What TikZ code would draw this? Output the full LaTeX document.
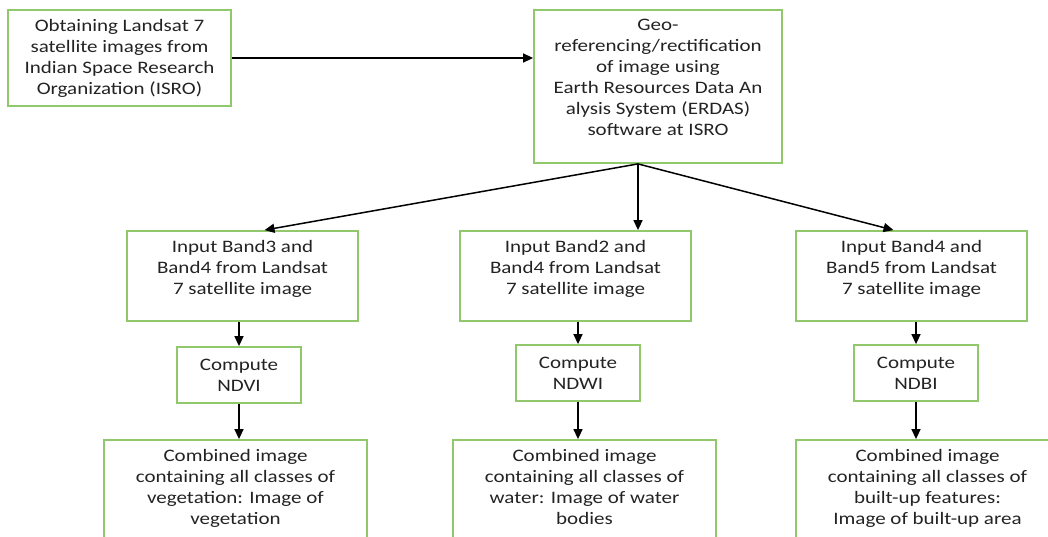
\documentclass[tikz,border=0pt]{standalone}
\usepackage{fontspec}
\setmainfont{Carlito}[FakeStretch=1.2]
\usetikzlibrary{arrows.meta}
\definecolor{boxgreen}{RGB}{146,200,108}
\definecolor{txtgray}{RGB}{35,35,35}

\begin{document}
\begin{tikzpicture}[x=1pt, y=-1pt,
    box/.style={draw=boxgreen, line width=1.8pt, align=center, text=txtgray,
      inner sep=0pt, font=\fontsize{17.5}{21}\selectfont},
    padbottom/.style={execute at end node={\rule[-#1]{0pt}{1pt}}},
    arr/.style={-{Triangle[length=10pt,width=9pt]}, line width=1.5pt}]
    \useasboundingbox (0,0) rectangle (1048,537);
    \clip (0,0) rectangle (1048,537);

    % Source and rectification
    \node (obtain) [box, minimum width=223, minimum height=96] at (119.5,58)
      {Obtaining Landsat 7\\satellite images from\\Indian Space Research\\Organization (ISRO)};
    \node (georef) [box, padbottom=18pt, minimum width=248, minimum height=153] at (658,86.5)
      {Geo-\\referencing/rectification\\of image using\\Earth Resources Data An\\alysis System (ERDAS)\\software at ISRO};

    % Input bands
    \node (band34) [box, padbottom=18pt, minimum width=231, minimum height=90] at (242.5,276)
      {Input Band3 and\\Band4 from Landsat\\7 satellite image};
    \node (band24) [box, padbottom=18pt, minimum width=231, minimum height=90] at (575.5,276)
      {Input Band2 and\\Band4 from Landsat\\7 satellite image};
    \node (band45) [box, padbottom=18pt, minimum width=231, minimum height=90] at (911.5,276)
      {Input Band4 and\\Band5 from Landsat\\7 satellite image};

    % Indices
    \node (ndvi) [box, minimum width=124, minimum height=56] at (239,375) {Compute\\NDVI};
    \node (ndwi) [box, minimum width=124, minimum height=56] at (578,373) {Compute\\NDWI};
    \node (ndbi) [box, minimum width=124, minimum height=56] at (916,373) {Compute\\NDBI};

    % Combined images
    \node (veg) [box, padbottom=25pt, minimum width=263, minimum height=118] at (235.5,499)
      {Combined image\\containing all classes of\\vegetation: Image of\\vegetation};
    \node (water) [box, padbottom=25pt, minimum width=263, minimum height=118] at (584.5,499)
      {Combined image\\containing all classes of\\water: Image of water\\bodies};
    \node (built) [box, padbottom=25pt, minimum width=263, minimum height=118] at (927.5,499)
      {Combined image\\containing all classes of\\built-up features:\\Image of built-up area};

    % Connectors
    \draw[arr] (obtain.east) -- (obtain.east -| georef.west);
    \coordinate (fork) at ([xshift=-20pt]georef.south);
    \draw[arr] (fork) -- ([xshift=22pt]band34.north);
    \draw[arr] (fork) -- (fork |- band24.north);
    \draw[arr] (fork) -- ([xshift=-18pt]band45.north);
    \foreach \a/\b/\c in {band34/ndvi/veg, band24/ndwi/water, band45/ndbi/built} {
      \draw[arr] (\b |- \a.south) -- (\b.north);
      \draw[arr] (\b.south) -- (\b |- \c.north);
    }
\end{tikzpicture}
\end{document}
